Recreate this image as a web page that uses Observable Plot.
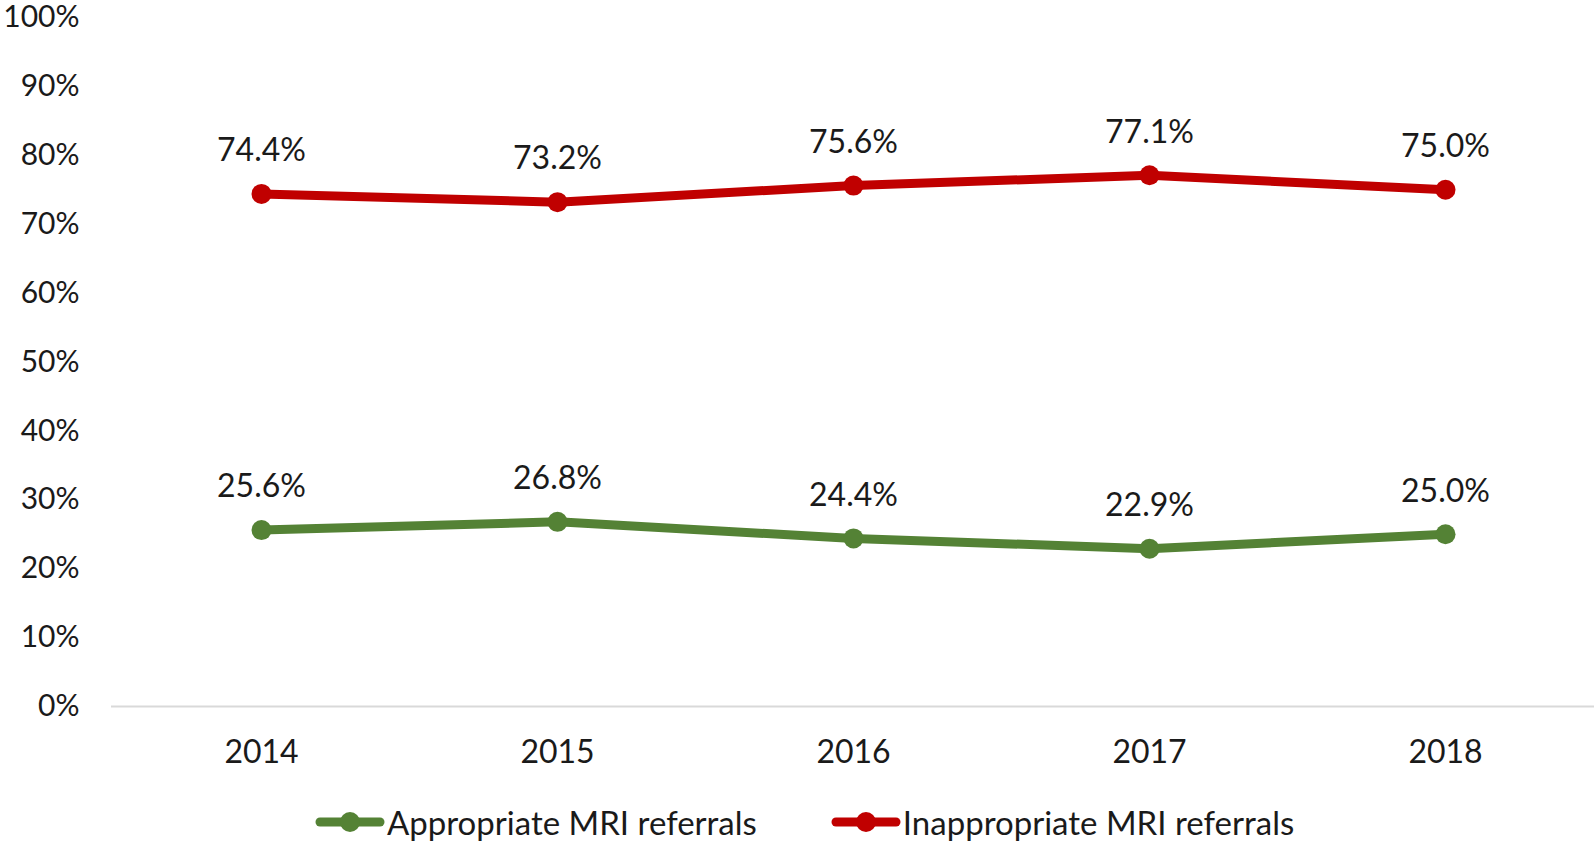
<!DOCTYPE html>
<html>
<head>
<meta charset="utf-8">
<script src="https://cdn.jsdelivr.net/npm/d3@7"></script>
<script src="https://cdn.jsdelivr.net/npm/@observablehq/plot@0.6"></script>
<style>
  body { margin: 0; background: #fff; font-family: Lato, "Open Sans", sans-serif; color: #1a1a1a; }
  #legend { display: flex; justify-content: flex-start; align-items: center; height: 60px; font-size: 33px; padding-left: 315px; margin-top: 8px; }
  .item { display: flex; align-items: center; margin-right: 74px; }
  .item svg { margin-right: 2px; }
</style>
</head>
<body>
<div id="chart"></div>
<div id="legend"></div>
<script>
const years = ["2014", "2015", "2016", "2017", "2018"];
const appropriate = [25.6, 26.8, 24.4, 22.9, 25.0];
const inappropriate = [74.4, 73.2, 75.6, 77.1, 75.0];
const seriesNames = ["Appropriate MRI referrals", "Inappropriate MRI referrals"];
const seriesColors = ["#548235", "#C00000"];
const yTicks = [0, 10, 20, 30, 40, 50, 60, 70, 80, 90, 100];

const rows = [];
years.forEach((y, i) => {
  rows.push({year: y, value: appropriate[i], series: seriesNames[0]});
  rows.push({year: y, value: inappropriate[i], series: seriesNames[1]});
});

const chart = Plot.plot({
  width: 1594,
  height: 784,
  marginTop: 17,
  marginBottom: 78,
  marginLeft: 111,
  marginRight: 0,
  style: {fontFamily: "Lato, 'Open Sans', sans-serif", fontSize: "32px", color: "#1a1a1a", background: "#fff"},
  x: {type: "point", domain: years, padding: 0.5, label: null},
  y: {domain: [0, 100], label: null},
  color: {domain: seriesNames, range: seriesColors},
  marks: [
    Plot.axisY({ticks: yTicks, tickSize: 0, tickPadding: 32, tickFormat: d => d + "%", fontSize: 30, label: null}),
    Plot.axisX({tickSize: 0, tickPadding: 34, fontSize: 32, label: null}),
    Plot.ruleY([0], {stroke: "#d9d9d9", strokeWidth: 2}),
    Plot.line(rows, {x: "year", y: "value", z: "series", stroke: "series", strokeWidth: 9, strokeLinecap: "round"}),
    Plot.dot(rows, {x: "year", y: "value", fill: "series", r: 10}),
    Plot.text(rows, {x: "year", y: "value", text: d => d.value.toFixed(1) + "%", dy: -43, fontSize: 32, fill: "#1a1a1a"})
  ]
});
document.getElementById("chart").appendChild(chart);

const legend = document.getElementById("legend");
seriesNames.forEach((name, i) => {
  const item = document.createElement("div");
  item.className = "item";
  item.innerHTML = `<svg width="70" height="24"><line x1="5" y1="12" x2="65" y2="12" stroke="${seriesColors[i]}" stroke-width="9" stroke-linecap="round"/><circle cx="35" cy="12" r="10" fill="${seriesColors[i]}"/></svg><span>${name}</span>`;
  legend.appendChild(item);
});
</script>
</body>
</html>
